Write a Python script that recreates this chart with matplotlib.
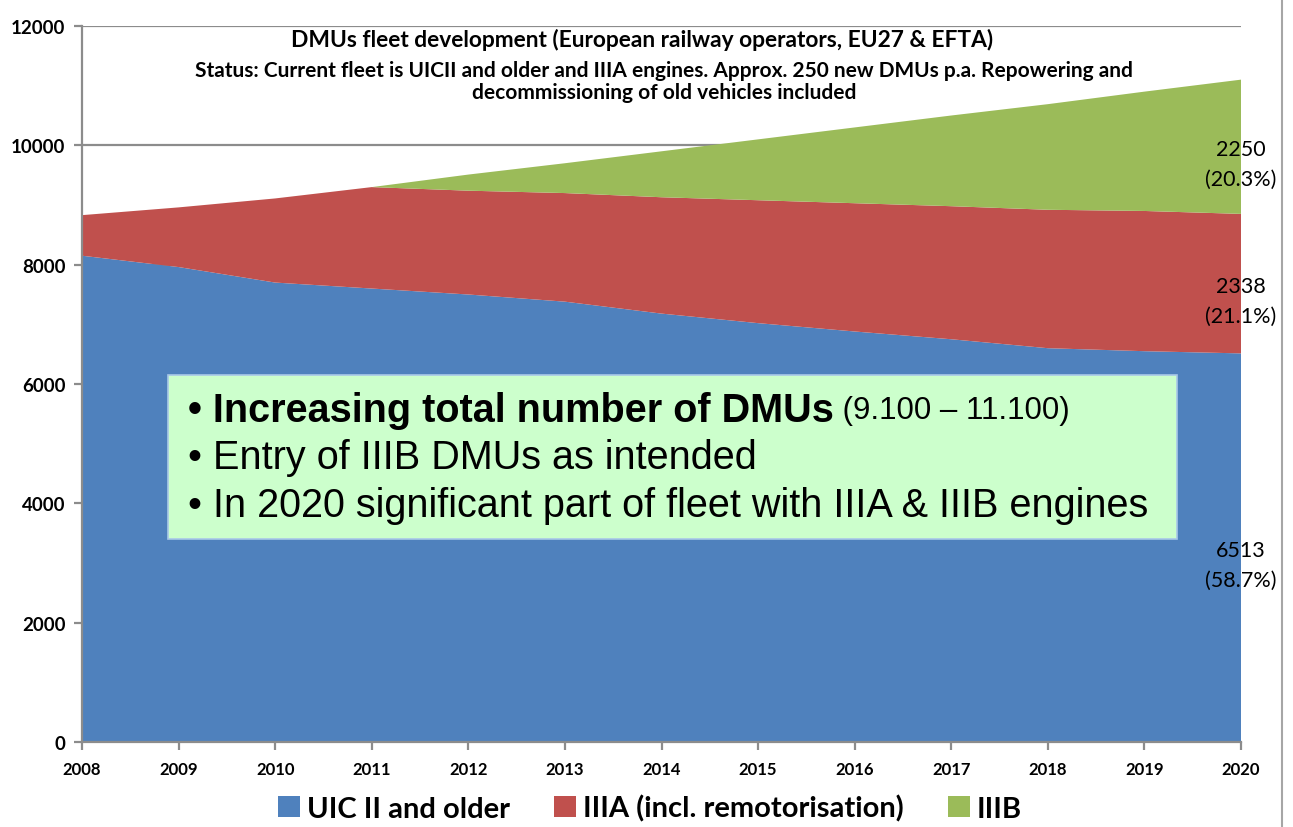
import matplotlib
matplotlib.use("Agg")
import matplotlib.pyplot as plt
from matplotlib.patches import Patch, Rectangle
from matplotlib.lines import Line2D

years = [2008, 2009, 2010, 2011, 2012, 2013, 2014, 2015, 2016, 2017, 2018, 2019, 2020]
uic_ii = [8150, 7960, 7700, 7600, 7500, 7380, 7180, 7020, 6880, 6750, 6600, 6550, 6513]
iiia = [680, 1000, 1410, 1700, 1740, 1820, 1950, 2060, 2150, 2230, 2320, 2350, 2338]
iiib = [0, 0, 0, 0, 270, 500, 770, 1020, 1270, 1520, 1770, 2000, 2250]

series_names = ["UIC II and older", "IIIA (incl. remotorisation)", "IIIB"]
colors = ["#4F81BD", "#C0504D", "#9BBB59"]
yticks = [0, 2000, 4000, 6000, 8000, 10000, 12000]

title = "DMUs fleet development (European railway operators, EU27 & EFTA)"
subtitle = ("Status: Current fleet is UICII and older and IIIA engines. Approx. 250 new DMUs p.a. Repowering and\n"
            "decommissioning of old vehicles included")
bullets = ["Increasing total number of DMUs", "Entry of IIIB DMUs as intended",
           "In 2020 significant part of fleet with IIIA & IIIB engines"]
bullet_note = "(9.100 \u2013 11.100)"

W, H = 1293, 828
fig = plt.figure(figsize=(W / 100, H / 100), dpi=100)
ax = fig.add_axes([82 / W, 1 - 743 / H, (1241 - 82) / W, (743 - 27) / H])

ax.stackplot(years, uic_ii, iiia, iiib, colors=colors, linewidth=0, zorder=2)

ax.set_xlim(years[0], years[-1])
ax.set_ylim(0, 12000)
ax.set_xticks(years)
ax.set_yticks(yticks)
ax.yaxis.grid(True, color="#8C8C8C", linewidth=1.6, zorder=1)
ax.set_axisbelow(True)
for side in ("top", "right"):
    ax.spines[side].set_visible(False)
for side in ("left", "bottom"):
    ax.spines[side].set_color("#8C8C8C")
    ax.spines[side].set_linewidth(1.6)
    ax.spines[side].set_zorder(3)
ax.tick_params(axis="both", colors="#8C8C8C", width=1.6, length=6)
ax.tick_params(axis="x", labelcolor="black", pad=8)
ax.tick_params(axis="y", labelcolor="black", pad=6)
for lab in ax.get_xticklabels():
    lab.set_fontfamily("Lato")
    lab.set_fontweight("bold")
    lab.set_fontsize(12)
for lab in ax.get_yticklabels():
    lab.set_fontfamily("Lato")
    lab.set_fontweight("bold")
    lab.set_fontsize(13.5)

# value labels at the last year
total = uic_ii[-1] + iiia[-1] + iiib[-1]
base = 0
for vals in (uic_ii, iiia, iiib):
    v = vals[-1]
    ax.text(years[-1], base + v / 2 - 290, f"{v}\n({v / total * 100:.1f}%)",
            ha="center", va="center", fontsize=15.5, family="Lato",
            linespacing=1.6, zorder=5)
    base += v

# chart title and status note
fig.text(642 / W, 1 - 40 / H, title, ha="center", va="center",
         fontsize=16.4, fontweight="bold", family="Lato")
fig.text(664 / W, 1 - 82 / H, subtitle, ha="center", va="center",
         fontsize=15, fontweight="bold", family="Lato", linespacing=1.15)

# highlight box with key messages
fig.patches.append(Rectangle((168 / W, 1 - 540 / H), (1177 - 168) / W, (540 - 376) / H,
                             transform=fig.transFigure, facecolor="#CCFFCC",
                             edgecolor="#A9C8E8", linewidth=1.2, zorder=4))
line_y = [411, 458, 506]
first = fig.text(188 / W, 1 - line_y[0] / H, "\u2022 " + bullets[0], ha="left", va="center",
                 fontsize=28.5, fontweight="bold", family="Liberation Sans", zorder=5)
for txt, yy in zip(bullets[1:], line_y[1:]):
    fig.text(188 / W, 1 - yy / H, "\u2022 " + txt, ha="left", va="center",
             fontsize=28.5, family="Liberation Sans", zorder=5)

# put the range note right after the bold line
fig.canvas.draw()
bb = first.get_window_extent()
fig.text(bb.x1 / W, (bb.y0 + 4) / H, " " + bullet_note, ha="left", va="bottom",
         fontsize=22.5, family="Liberation Sans", zorder=5)

handles = [Patch(facecolor=c, edgecolor="none") for c in colors]
fig.legend(handles, series_names, loc="center", bbox_to_anchor=(650 / W, 1 - 809 / H),
           ncol=3, frameon=False, handlelength=0.75, handleheight=0.75,
           handletextpad=0.25, columnspacing=1.5,
           prop={"family": "Lato", "weight": "bold", "size": 21})

# slide frame on the right
fig.add_artist(Line2D([1282 / W, 1282 / W], [0, 1], transform=fig.transFigure,
                      color="#A6A6A6", linewidth=1.5))

fig.savefig("out.png", dpi=100)
